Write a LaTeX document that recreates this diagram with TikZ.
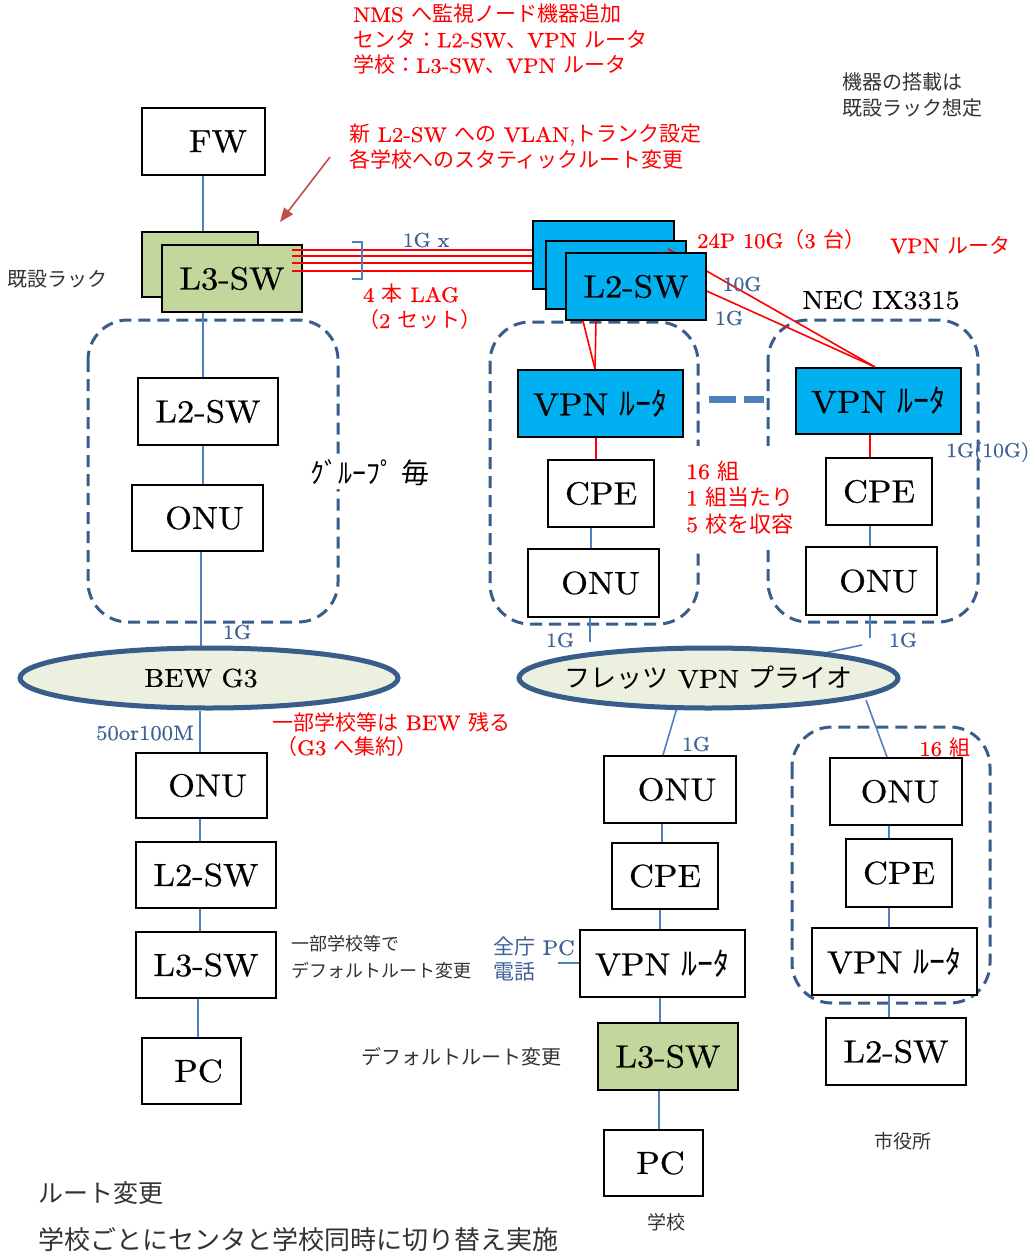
\documentclass[tikz,border=0pt]{standalone}
\usepackage{fontspec}
\setmainfont{lmroman10-regular.otf}[FakeStretch=1.08,FakeBold=0.6]
\newfontfamily\jp{Noto Sans CJK JP}
\usetikzlibrary{shapes.geometric,arrows.meta}
\definecolor{cblue}{HTML}{4F81BD}
\definecolor{dblue}{HTML}{385D8A}
\definecolor{tblue}{HTML}{3F6296}
\definecolor{lgreen}{HTML}{C3D69B}
\definecolor{cyanb}{HTML}{00B0F0}
\definecolor{ellf}{HTML}{EBF1DE}
\definecolor{arrowred}{HTML}{C0504D}
\definecolor{gtext}{HTML}{333333}
\newcommand\J[1]{{\jp #1}}
\newcommand\fs[2]{\fontsize{#1}{#2}\selectfont}
\pgfdeclarelayer{bg}
\pgfsetlayers{bg,main}
\begin{document}
\begin{tikzpicture}[x=1pt,y=-1pt,
 box/.style={draw=black,line width=2pt,fill=white,inner sep=0pt,font=\fs{32}{36}},
 gbox/.style={box,fill=lgreen},
 cbox/.style={box,fill=cyanb},
 conn/.style={draw=cblue,line width=1.6pt},
 redl/.style={draw=red,line width=1.6pt},
 grp/.style={draw=dblue,line width=3pt,dash pattern=on 12pt off 7pt,rounded corners=40pt},
 cloud/.style={ellipse,draw=dblue,line width=5pt,fill=ellf,inner sep=0pt},
 cloudtext/.style={font=\fs{26}{30},inner sep=0pt},
 lbl/.style={font=\fs{20}{22},text=tblue,inner sep=0pt},
 rtxt/.style={font=\fs{21}{25.5},text=red,inner sep=0pt,align=left},
 ktxt/.style={font=\fs{20}{26},text=gtext,inner sep=0pt,align=left},
]
\useasboundingbox (0,0) rectangle (1034,1257);

% ---------------- left column
\node[box,minimum width=123pt,minimum height=67pt] (fw) at (203,141.5) {\hspace*{30pt}FW};
\node[gbox,minimum width=116pt,minimum height=65pt] (l3back) at (200,264.5) {};
\node[gbox,minimum width=140pt,minimum height=67pt] (l3sw) at (232,278.5) {L3-SW};
\node[box,minimum width=140pt,minimum height=67pt] (l2a) at (208,411.5) {L2-SW};
\node[box,minimum width=131pt,minimum height=66pt] (onua) at (197.5,518) {\hspace*{14pt}ONU};
\node[cloud,minimum width=378pt,minimum height=60pt,
      label={[cloudtext,xshift=-8pt]center:BEW G3}] (bew) at (209,678) {};
\node[box,minimum width=131pt,minimum height=65pt] (onub) at (201.5,785.5) {\hspace*{12pt}ONU};
\node[box,minimum width=140pt,minimum height=66pt] (l2b) at (206,875) {L2-SW};
\node[box,minimum width=140pt,minimum height=66pt] (l3b) at (206,965) {L3-SW};
\node[box,minimum width=99pt,minimum height=66pt] (pcb) at (191.5,1071) {\hspace*{14pt}PC};

% ---------------- centre groups
\node[cbox,minimum width=165pt,minimum height=67pt] (vpnl) at (600.5,403.5) {VPN \J{ﾙｰﾀ}};
\node[box,minimum width=106pt,minimum height=67pt] (cpel) at (601,493.5) {CPE};
\node[box,minimum width=131pt,minimum height=68pt] (onul) at (593.5,583) {\hspace*{14pt}ONU};
\node[cbox,minimum width=165pt,minimum height=66pt] (vpnr) at (878.5,401) {VPN \J{ﾙｰﾀ}};
\node[box,minimum width=106pt,minimum height=67pt] (cper) at (879,491.5) {CPE};
\node[box,minimum width=131pt,minimum height=68pt] (onur) at (871.5,581) {\hspace*{14pt}ONU};
\node[cloud,minimum width=379pt,minimum height=60pt,
      label={[cloudtext]center:\J{フレッツ} VPN \J{プライオ}}] (flets) at (708.5,678) {};

% ---------------- school column
\node[box,minimum width=132pt,minimum height=67pt] (onum) at (670,789.5) {\hspace*{14pt}ONU};
\node[box,minimum width=106pt,minimum height=66pt] (cpem) at (665,876) {CPE};
\node[box,minimum width=165pt,minimum height=67pt] (vpnm) at (662.5,963.5) {VPN \J{ﾙｰﾀ}};
\node[gbox,minimum width=140pt,minimum height=67pt] (l3m) at (668,1056.5) {L3-SW};
\node[box,minimum width=99pt,minimum height=66pt] (pcm) at (653.5,1163) {\hspace*{14pt}PC};

% ---------------- city hall column
\node[box,minimum width=132pt,minimum height=67pt] (onus) at (896,791.5) {\hspace*{8pt}ONU};
\node[box,minimum width=106pt,minimum height=68pt] (cpes) at (899,873) {CPE};
\node[box,minimum width=165pt,minimum height=67pt] (vpns) at (894.5,961.5) {VPN \J{ﾙｰﾀ}};
\node[box,minimum width=140pt,minimum height=67pt] (l2s) at (896,1051.5) {L2-SW};

% ---------------- new L2-SW stack
\node[cbox,minimum width=141pt,minimum height=68pt] (l2c) at (603.5,255) {};
\node[cbox,minimum width=140pt,minimum height=68pt] (l2m) at (616,275) {};
\draw[redl] ([xshift=52pt,yshift=26pt]l2m.center) -- ([xshift=-3.5pt]vpnr.north);
\draw[redl] ([xshift=84pt,yshift=-13pt]l2m.center) -- ([xshift=-3.5pt]vpnr.north);
\node[cbox,minimum width=140pt,minimum height=67pt] (l2f) at (636,286.5) {L2-SW};

% ---------------- background: groups and blue connectors
\begin{pgfonlayer}{bg}
\fill[white] (0,0) rectangle (1034,1257);
\draw[grp] (88,320) rectangle (338,622);
\draw[grp] (490,322) rectangle (698,624);
\draw[grp] (768,320) rectangle (978,622);
\draw[grp] (792,727) rectangle (990,1003);

\draw[conn] (fw.south) -- (fw.south |- l3back.north);
\draw[conn] ([xshift=-5pt]l2a.north) -- ([xshift=-5pt]l2a.north |- l3sw.south);
\draw[conn] ([xshift=-5pt]l2a.south) -- ([xshift=-5pt]l2a.south |- onua.north);
\draw[conn] ([xshift=3.5pt]onua.south) -- ([xshift=3.5pt]onua.south |- bew.north);
\draw[conn] ([xshift=-1.5pt]onub.north) -- ([xshift=-1.5pt]onub.north |- bew.south);
\draw[conn] ([xshift=-1.5pt]onub.south) -- ([xshift=-1.5pt]onub.south |- l2b.north);
\draw[conn] ([xshift=-6pt]l2b.south) -- ([xshift=-6pt]l2b.south |- l3b.north);
\draw[conn] ([xshift=-8pt]l3b.south) -- ([xshift=-8pt]l3b.south |- pcb.north);

\draw[conn] ([xshift=-10pt]cpel.south) -- ([xshift=-10pt]cpel.south |- onul.north);
\coordinate (e1) at (590,642);
\draw[conn] (onul.south -| e1) -- (e1);
\draw[conn] ([xshift=-9pt]cper.south) -- ([xshift=-9pt]cper.south |- onur.north);
\coordinate (e2) at (870,638);
\draw[conn] (onur.south -| e2) -- (e2);
\coordinate (e3) at (862,645);
\draw[conn] (e3) -- (flets.center);

\coordinate (f1) at (677.5,706);
\draw[conn] (f1) -- ([xshift=-7pt]onum.north);
\coordinate (f2) at (866,700);
\draw[conn] (f2) -- ([xshift=-9pt]onus.north);

\draw[conn] ([xshift=-8pt]onum.south) -- ([xshift=-8pt]onum.south |- cpem.north);
\draw[conn] ([xshift=-5pt]cpem.south) -- ([xshift=-5pt]cpem.south |- vpnm.north);
\draw[conn] ([xshift=-2.5pt]vpnm.south) -- ([xshift=-2.5pt]vpnm.south |- l3m.north);
\draw[conn] ([xshift=-9pt]l3m.south) -- ([xshift=-9pt]l3m.south |- pcm.north);
\coordinate (zc) at (558,963);
\draw[conn] (zc) -- (zc -| vpnm.west);

\draw[conn] ([xshift=-7pt]onus.south) -- ([xshift=-7pt]onus.south |- cpes.north);
\draw[conn] ([xshift=-10pt]cpes.south) -- ([xshift=-10pt]cpes.south |- vpns.north);
\draw[conn] ([xshift=-5.5pt]vpns.south) -- ([xshift=-5.5pt]vpns.south |- l2s.north);
\end{pgfonlayer}

% ---------------- red links
\foreach \a/\b in {28.5/5, 22.5/-1, 15.5/-8, 7.5/-16}{
  \draw[redl] ([xshift=-11pt,yshift=\a pt]l3sw.east) -- ([yshift=\b pt]l2c.west);
}
\draw[redl] ([xshift=-53pt]l2f.south) -- ([xshift=-5.5pt]vpnl.north);
\draw[redl] ([xshift=-40pt]l2f.south) -- ([xshift=-5.5pt]vpnl.north);
\draw[redl] ([xshift=-4.5pt]vpnl.south) -- ([xshift=-4.5pt]vpnl.south |- cpel.north);
\draw[redl] ([xshift=-8.5pt]vpnr.south) -- ([xshift=-8.5pt]vpnr.south |- cper.north);

% thick dashed link between VPN routers
\draw[draw=cblue,line width=7pt,dash pattern=on 27pt off 8pt]
  ([xshift=25pt,yshift=4.5pt]vpnl.east) -- ([xshift=-31pt,yshift=2pt]vpnr.west);

% LAG bracket
\draw[conn] (352,242) -| (362,279) -- (352,279);

% annotation arrow
\coordinate (arrtail) at (330,157);
\coordinate (arrhead) at (280,222);
\draw[draw=arrowred,line width=1.6pt,-{Triangle[length=14pt,width=11pt]}] (arrtail) -- (arrhead);

% ---------------- texts
\node[rtxt,anchor=north west] (t1) at (353,4) {NMS \J{へ監視ノード機器追加}\\
\J{センタ：}L2-SW\J{、}VPN \J{ルータ}\\
\J{学校：}L3-SW\J{、}VPN \J{ルータ}};
\node[rtxt,anchor=north west] (t2) at (349,124) {\J{新} L2-SW \J{への} VLAN,\J{トランク設定}\\
\J{各学校へのスタティックルート変更}};
\node[ktxt,anchor=north west] (t3) at (842,72) {\J{機器の搭載は}\\\J{既設ラック想定}};
\node[ktxt,anchor=west] (t4) at (7,279) {\J{既設ラック}};
\node[lbl] (t5) at (426,240) {1G x};
\node[rtxt,anchor=center] (t6) at (411,294) {4 \J{本} LAG};
\node[rtxt,anchor=center] (t7) at (420,320) {\J{（}2 \J{セット）}};
\node[rtxt,anchor=west] (t8) at (697,240) {24P 10G\J{（}3 \J{台）}};
\node[rtxt,anchor=west] (t9) at (890,245) {VPN \J{ルータ}};
\node[lbl] (t10) at (742,284) {10G};
\node[lbl] (t11) at (729,318) {1G};
\node[font=\fs{26}{28},inner sep=0pt] (t12) at (881,300) {NEC IX3315};
\node[font=\fs{28}{30},fill=white,inner sep=3pt] (t13) at (370,473) {\J{ｸﾞﾙｰﾌﾟ 毎}};
\node[rtxt,font=\fs{22}{26.5},fill=white,anchor=north west,inner sep=0pt,
      minimum width=114pt,minimum height=102pt,text width=114pt] (t14) at (686,446)
      {16 \J{組}\\1 \J{組当たり}\\5 \J{校を収容}};
\node[lbl,anchor=west] (t15) at (946,452) {1G(10G)};
\node[lbl] (t16) at (237,632) {1G};
\node[lbl] (t17) at (560,640) {1G};
\node[lbl] (t18) at (903,640) {1G};
\node[lbl] (t19) at (696,744) {1G};
\node[lbl,font=\fs{21}{22}] (t20) at (145,733) {50or100M};
\node[rtxt,anchor=west] (t21) at (272,722) {\J{一部学校等は} BEW \J{残る}};
\node[rtxt,anchor=west] (t22) at (276,747) {\J{（}G3 \J{へ集約）}};
\node[ktxt,font=\fs{18}{27},anchor=north west] (t23) at (291,935) {\J{一部学校等で}\\\J{デフォルトルート変更}};
\node[lbl,font=\fs{21}{25},anchor=north west,align=left] (t24) at (493,937) {\J{全庁} PC\\\J{電話}};
\node[ktxt,anchor=west] (t25) at (361,1057) {\J{デフォルトルート変更}};
\node[ktxt,font=\fs{19}{22},anchor=center] (t26) at (666,1222) {\J{学校}};
\node[ktxt,font=\fs{19}{22},anchor=center] (t27) at (903,1141) {\J{市役所}};
\node[rtxt,anchor=center] (t28) at (945,748) {16 \J{組}};
\node[ktxt,font=\fs{25}{28},anchor=west] (t29) at (38,1193) {\J{ルート変更}};
\node[ktxt,font=\fs{26}{28},anchor=west] (t30) at (38,1240) {\J{学校ごとにセンタと学校同時に切り替え実施}};
\end{tikzpicture}
\end{document}
